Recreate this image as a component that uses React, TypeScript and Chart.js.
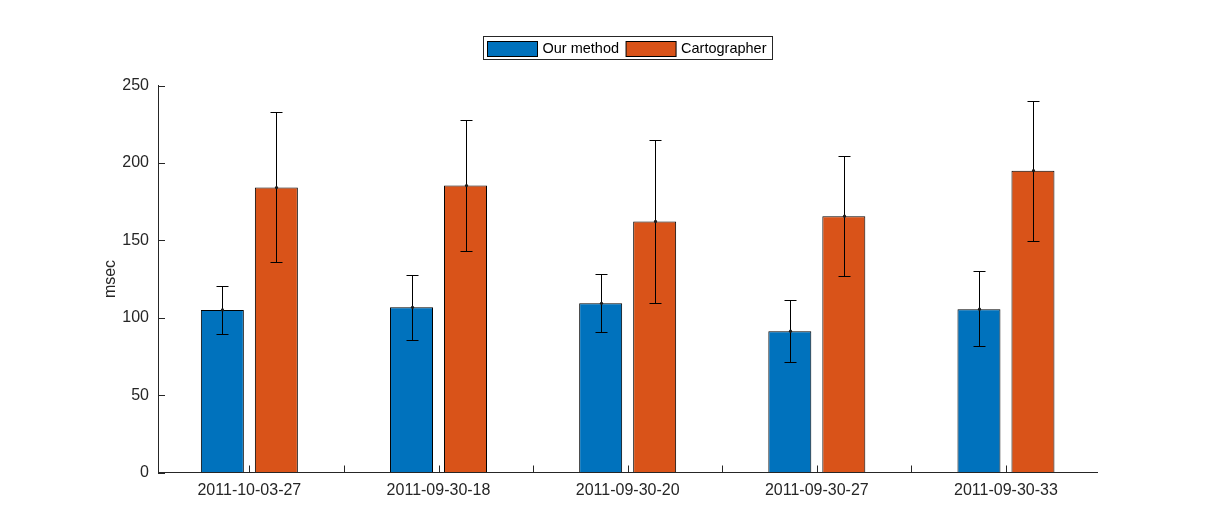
import React, { useEffect, useRef } from 'react';
import { Chart, registerables } from 'chart.js';

Chart.register(...registerables);

// ---------------- data ----------------
const CATEGORIES = ['2011-10-03-27', '2011-09-30-18', '2011-09-30-20', '2011-09-30-27', '2011-09-30-33'];
const CAT_X = [1, 2, 3, 4, 5];
const MINOR_X = [1.5, 2.5, 3.5, 4.5];
const SERIES_NAMES = ['Our method', 'Cartographer'];

const OUR_MEAN = [105.0, 106.7, 109.3, 91.3, 105.5];
const OUR_LOW = [89.4, 85.7, 90.6, 71.3, 81.6];
const OUR_HIGH = [120.7, 127.4, 128.0, 111.3, 130.0];

const CARTO_MEAN = [184.1, 185.4, 162.2, 165.6, 195.0];
const CARTO_LOW = [135.8, 142.8, 109.3, 126.7, 149.3];
const CARTO_HIGH = [233.0, 227.9, 215.0, 204.7, 240.1];

const Y_MIN = 0;
const Y_MAX = 250;
const Y_STEP = 50;
const X_MIN = 0.517;
const X_MAX = 5.485;

// ---------------- styles ----------------
const FONT = "'Liberation Sans', Arial, Helvetica, sans-serif";
const AXIS_COLOR = '#262626';
const COLORS = ['#0072BD', '#D95319'];

const errorBarPlugin = {
  id: 'errorBars',
  afterDatasetsDraw(chart: any) {
    const ctx = chart.ctx;
    const y = chart.scales.y;
    chart.data.datasets.forEach((ds: any, di: number) => {
      const meta = chart.getDatasetMeta(di);
      meta.data.forEach((bar: any, i: number) => {
        const x = Math.round(bar.x) + 0.5;
        const yl = Math.round(y.getPixelForValue(ds.errLow[i])) + 0.5;
        const yh = Math.round(y.getPixelForValue(ds.errHigh[i])) + 0.5;
        const ym = y.getPixelForValue(ds.data[i].y);
        ctx.save();
        ctx.strokeStyle = '#000';
        ctx.lineWidth = 1;
        ctx.beginPath();
        ctx.moveTo(x, yh);
        ctx.lineTo(x, yl);
        ctx.moveTo(x - 6, yh);
        ctx.lineTo(x + 6, yh);
        ctx.moveTo(x - 6, yl);
        ctx.lineTo(x + 6, yl);
        ctx.stroke();
        ctx.fillStyle = '#1a1a1a';
        ctx.beginPath();
        ctx.arc(x, ym, 1.6, 0, Math.PI * 2);
        ctx.fill();
        ctx.restore();
      });
    });
  },
};

const inwardTicksPlugin = {
  id: 'inwardTicks',
  beforeDatasetsDraw(chart: any) {
    const { ctx, chartArea, scales } = chart;
    const x = scales.x;
    const y = scales.y;
    const len = 7;
    ctx.save();
    ctx.strokeStyle = AXIS_COLOR;
    ctx.lineWidth = 1;
    ctx.beginPath();
    [...CAT_X, ...MINOR_X].forEach((v) => {
      const px = Math.round(x.getPixelForValue(v)) + 0.5;
      ctx.moveTo(px, chartArea.bottom);
      ctx.lineTo(px, chartArea.bottom - len);
    });
    y.ticks.forEach((t: any) => {
      const py = Math.round(y.getPixelForValue(t.value)) + 0.5;
      ctx.moveTo(chartArea.left, py);
      ctx.lineTo(chartArea.left + len, py);
    });
    ctx.stroke();
    ctx.restore();
  },
};

const boxedLegendPlugin = {
  id: 'boxedLegend',
  afterDraw(chart: any) {
    const { ctx, chartArea } = chart;
    const fontSize = 14.5;
    const boxW = 50;
    const boxH = 15;
    const padL = 4;
    const padR = 6;
    const gapText = 5;
    const gapItem = 7;
    const frameH = 23;
    ctx.save();
    ctx.font = `${fontSize}px ${FONT}`;
    const items = chart.data.datasets.map((ds: any) => ({
      text: ds.label,
      color: ds.backgroundColor,
      w: ctx.measureText(ds.label).width,
    }));
    let total = padL + padR;
    items.forEach((it: any, i: number) => {
      total += boxW + gapText + it.w + (i < items.length - 1 ? gapItem : 0);
    });
    const cx = (chartArea.left + chartArea.right) / 2;
    const left = Math.round(cx - total / 2) + 0.5;
    const top = Math.round(chartArea.top - 49.5) + 0.5;
    ctx.fillStyle = '#fff';
    ctx.fillRect(left, top, total, frameH);
    ctx.strokeStyle = AXIS_COLOR;
    ctx.lineWidth = 1;
    ctx.strokeRect(left, top, Math.round(total), frameH);
    let xpos = left + padL;
    const midY = top + frameH / 2;
    items.forEach((it: any) => {
      const by = Math.round(midY - boxH / 2) + 0.5;
      ctx.fillStyle = it.color;
      ctx.fillRect(xpos, by, boxW, boxH);
      ctx.strokeStyle = '#000';
      ctx.strokeRect(xpos, by, boxW, boxH);
      xpos += boxW + gapText;
      ctx.fillStyle = '#000';
      ctx.textBaseline = 'middle';
      ctx.textAlign = 'left';
      ctx.fillText(it.text, xpos, midY + 0.5);
      xpos += it.w + gapItem;
    });
    ctx.restore();
  },
};

export default function App() {
  const canvasRef = useRef<HTMLCanvasElement | null>(null);

  useEffect(() => {
    if (!canvasRef.current) return;
    const makeData = (vals: number[]) => vals.map((v, i) => ({ x: CAT_X[i], y: v }));
    const chart = new Chart(canvasRef.current, {
      type: 'bar',
      data: {
        datasets: [
          {
            label: SERIES_NAMES[0],
            data: makeData(OUR_MEAN),
            backgroundColor: COLORS[0],
            borderColor: '#000',
            borderWidth: 1,
            errLow: OUR_LOW,
            errHigh: OUR_HIGH,
            categoryPercentage: 0.571,
            barPercentage: 0.796,
          } as any,
          {
            label: SERIES_NAMES[1],
            data: makeData(CARTO_MEAN),
            backgroundColor: COLORS[1],
            borderColor: '#000',
            borderWidth: 1,
            errLow: CARTO_LOW,
            errHigh: CARTO_HIGH,
            categoryPercentage: 0.571,
            barPercentage: 0.796,
          } as any,
        ],
      },
      options: {
        animation: false,
        responsive: true,
        maintainAspectRatio: false,
        layout: { padding: { left: 0, top: 85.5, right: 115.3, bottom: 0 } },
        plugins: {
          legend: { display: false },
          tooltip: { enabled: false },
        },
        scales: {
          x: {
            type: 'linear',
            offset: false,
            min: X_MIN,
            max: X_MAX,
            afterBuildTicks: (scale: any) => {
              scale.ticks = CAT_X.map((v) => ({ value: v }));
            },
            afterFit: (scale: any) => {
              scale.height = 52.5;
            },
            grid: { display: true, drawOnChartArea: false, drawTicks: false, offset: false },
            border: { display: true, color: AXIS_COLOR, width: 1 },
            ticks: {
              autoSkip: false,
              maxRotation: 0,
              padding: 8,
              color: AXIS_COLOR,
              font: { family: FONT, size: 16 },
              callback: (_v: any, i: number) => CATEGORIES[i],
            },
          },
          y: {
            type: 'linear',
            min: Y_MIN,
            max: Y_MAX,
            afterFit: (scale: any) => {
              scale.width = 158;
            },
            grid: { display: true, drawOnChartArea: false, drawTicks: false },
            border: { display: true, color: AXIS_COLOR, width: 1 },
            ticks: {
              stepSize: Y_STEP,
              padding: 9,
              color: AXIS_COLOR,
              font: { family: FONT, size: 16 },
            },
            title: {
              display: true,
              text: 'msec',
              color: AXIS_COLOR,
              font: { family: FONT, size: 16 },
              padding: { top: 101, bottom: 0 },
            },
          },
        },
      } as any,
      plugins: [inwardTicksPlugin, errorBarPlugin, boxedLegendPlugin],
    });
    return () => chart.destroy();
  }, []);

  return (
    <div style={{ position: 'absolute', left: 0, top: 0, width: 1213, height: 525, background: '#fff' }}>
      <canvas ref={canvasRef} />
    </div>
  );
}
